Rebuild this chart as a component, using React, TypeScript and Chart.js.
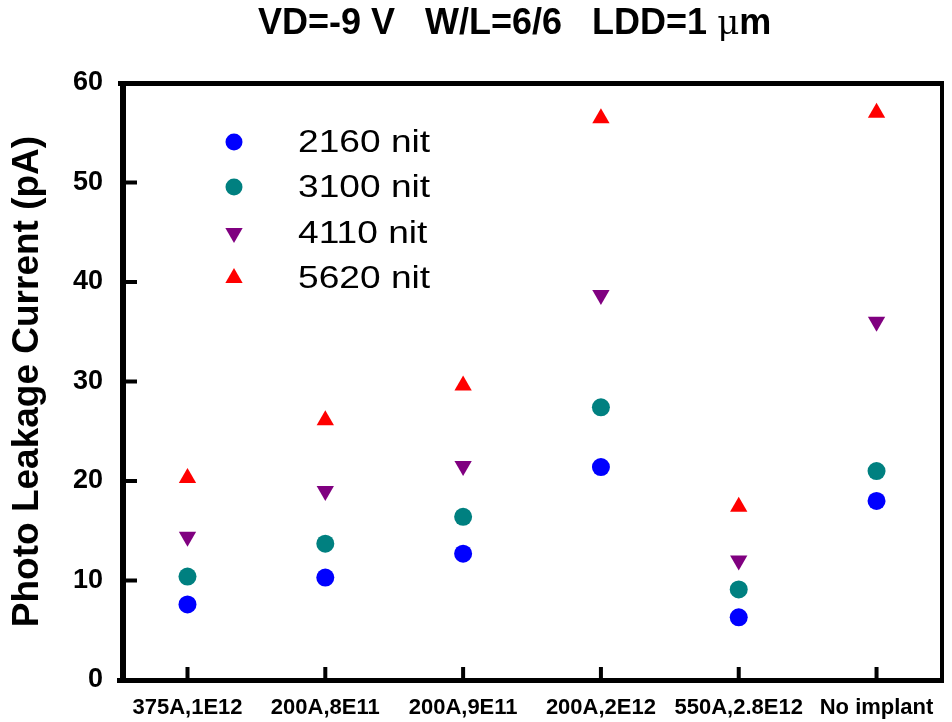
import React, { useEffect, useRef } from "react";
import { Chart, registerables } from "chart.js";

Chart.register(...registerables);

const CATEGORIES = ["375A,1E12", "200A,8E11", "200A,9E11", "200A,2E12", "550A,2.8E12", "No implant"];
const SERIES_NAMES = ["2160 nit", "3100 nit", "4110 nit", "5620 nit"];
const VALUES_2160 = [7.6, 10.3, 12.7, 21.4, 6.3, 18.0];
const VALUES_3100 = [10.4, 13.7, 16.4, 27.4, 9.1, 21.0];
const VALUES_4110 = [14.4, 19.0, 21.5, 38.7, 12.0, 36.0];
const VALUES_5620 = [20.3, 26.1, 29.6, 56.45, 17.4, 57.0];
const Y_TICKS = [0, 10, 20, 30, 40, 50, 60];
const TITLE = "VD=-9 V   W/L=6/6   LDD=1 ";
const Y_TITLE = "Photo Leakage Current (pA)";

const COLORS = ["#0000ff", "#008080", "#800080", "#ff0000"];
const STYLES = ["circle", "circle", "triangle", "triangle"];
const ROTS = [0, 0, 180, 0];
const RADII = [9, 9, 10, 10];

function drawMarker(ctx: CanvasRenderingContext2D, style: string, rot: number, r: number, x: number, y: number, color: string) {
  ctx.save();
  ctx.fillStyle = color;
  ctx.beginPath();
  if (style === "circle") {
    ctx.arc(x, y, r, 0, Math.PI * 2);
  } else {
    const base = (rot * Math.PI) / 180;
    for (let k = 0; k < 3; k++) {
      const a = base + (k * 2 * Math.PI) / 3;
      const px = x + Math.sin(a) * r;
      const py = y - Math.cos(a) * r;
      if (k === 0) ctx.moveTo(px, py);
      else ctx.lineTo(px, py);
    }
    ctx.closePath();
  }
  ctx.fill();
  ctx.restore();
}

const framePlugin = {
  id: "frame",
  afterDraw(chart: any) {
    const ctx: CanvasRenderingContext2D = chart.ctx;
    const { left, right, top, bottom } = chart.chartArea;
    const xs = chart.scales.x;
    const ys = chart.scales.y;
    ctx.save();
    ctx.fillStyle = "#000";
    // top border
    ctx.fillRect(left - 5, top - 2, right - left + 5, 5);
    // right border
    ctx.fillRect(right - 2, top - 2, 4, bottom - top + 2);
    // bottom axis
    ctx.fillRect(left - 6, bottom - 2, right - left + 8, 5);
    // left axis
    ctx.fillRect(left - 3, top - 2, 6, bottom - top + 5);
    // y ticks inward
    Y_TICKS.forEach((v) => {
      if (v === 0 || v === 60) return;
      const y = ys.getPixelForValue(v);
      ctx.fillRect(left, y - 2, 14, 4);
    });
    // x ticks inward
    CATEGORIES.forEach((_, i) => {
      const x = xs.getPixelForValue(i);
      ctx.fillRect(x - 2, bottom - 13, 4, 13);
    });
    // title
    ctx.fillStyle = "#000";
    ctx.textBaseline = "middle";
    ctx.textAlign = "left";
    ctx.font = "bold 36px Arial, 'Liberation Sans', sans-serif";
    const tx = 258;
    const ty = 24;
    ctx.fillText(TITLE, tx, ty);
    let w = ctx.measureText(TITLE).width;
    ctx.font = "34px 'DejaVu Serif', serif";
    ctx.fillText("\u03bc", tx + w, ty + 1);
    w += ctx.measureText("\u03bc").width;
    ctx.font = "bold 36px Arial, 'Liberation Sans', sans-serif";
    ctx.fillText("m", tx + w, ty);
    // legend
    const rows = [142, 187, 233, 278];
    chart.data.datasets.forEach((ds: any, i: number) => {
      drawMarker(ctx, STYLES[i], ROTS[i], i < 2 ? 8.5 : 10, 234, rows[i], COLORS[i]);
      ctx.save();
      ctx.fillStyle = "#000";
      ctx.font = "32px Arial, 'Liberation Sans', sans-serif";
      ctx.textBaseline = "middle";
      ctx.translate(298, rows[i] + 1);
      ctx.scale(1.16, 1);
      ctx.fillText(ds.label, 0, 0);
      ctx.restore();
    });
    ctx.restore();
  },
};

export default function App() {
  const ref = useRef<HTMLCanvasElement>(null);
  useEffect(() => {
    if (!ref.current) return;
    const all = [VALUES_2160, VALUES_3100, VALUES_4110, VALUES_5620];
    const chart = new Chart(ref.current, {
      type: "scatter",
      data: {
        datasets: all.map((vals, i) => ({
          label: SERIES_NAMES[i],
          data: vals.map((v, j) => ({ x: j, y: v })),
          backgroundColor: COLORS[i],
          borderColor: COLORS[i],
          borderWidth: 0,
          pointStyle: STYLES[i] as any,
          pointRotation: ROTS[i],
          pointRadius: RADII[i],
          pointHoverRadius: RADII[i],
          showLine: false,
        })),
      },
      options: {
        animation: false,
        responsive: false,
        devicePixelRatio: 1,
        layout: { padding: { top: 83, right: 4, left: 0, bottom: 0 } },
        plugins: {
          legend: { display: false },
          title: { display: false },
          tooltip: { enabled: false },
        },
        scales: {
          x: {
            type: "linear",
            min: -0.468,
            max: 5.475,
            grid: { display: false, drawTicks: false },
            border: { display: false },
            afterBuildTicks: (s: any) => {
              s.ticks = CATEGORIES.map((_, i) => ({ value: i }));
            },
            afterFit: (s: any) => {
              s.height = 42;
            },
            ticks: {
              autoSkip: false,
              maxRotation: 0,
              minRotation: 0,
              padding: 15,
              color: "#000",
              font: { family: "Arial, 'Liberation Sans', sans-serif", weight: "bold", size: 22 },
              callback: (v: any) => CATEGORIES[Math.round(Number(v))] ?? "",
            },
          },
          y: {
            min: 0,
            max: 60,
            grid: { display: false, drawTicks: false },
            border: { display: false },
            afterBuildTicks: (s: any) => {
              s.ticks = Y_TICKS.map((v) => ({ value: v }));
            },
            afterFit: (s: any) => {
              s.width = 123;
            },
            ticks: {
              padding: 20,
              color: "#000",
              font: { family: "Arial, 'Liberation Sans', sans-serif", weight: "bold", size: 27 },
            },
            title: {
              display: true,
              text: Y_TITLE,
              color: "#000",
              padding: { top: 6, bottom: 0 },
              font: { family: "Arial, 'Liberation Sans', sans-serif", weight: "bold", size: 37 },
            },
          },
        },
      },
      plugins: [framePlugin],
    });
    return () => chart.destroy();
  }, []);
  return (
    <div style={{ position: "fixed", left: 0, top: 0, width: 952, height: 722, background: "#fff" }}>
      <canvas ref={ref} width={952} height={722} style={{ display: "block", width: 952, height: 722 }} />
    </div>
  );
}
